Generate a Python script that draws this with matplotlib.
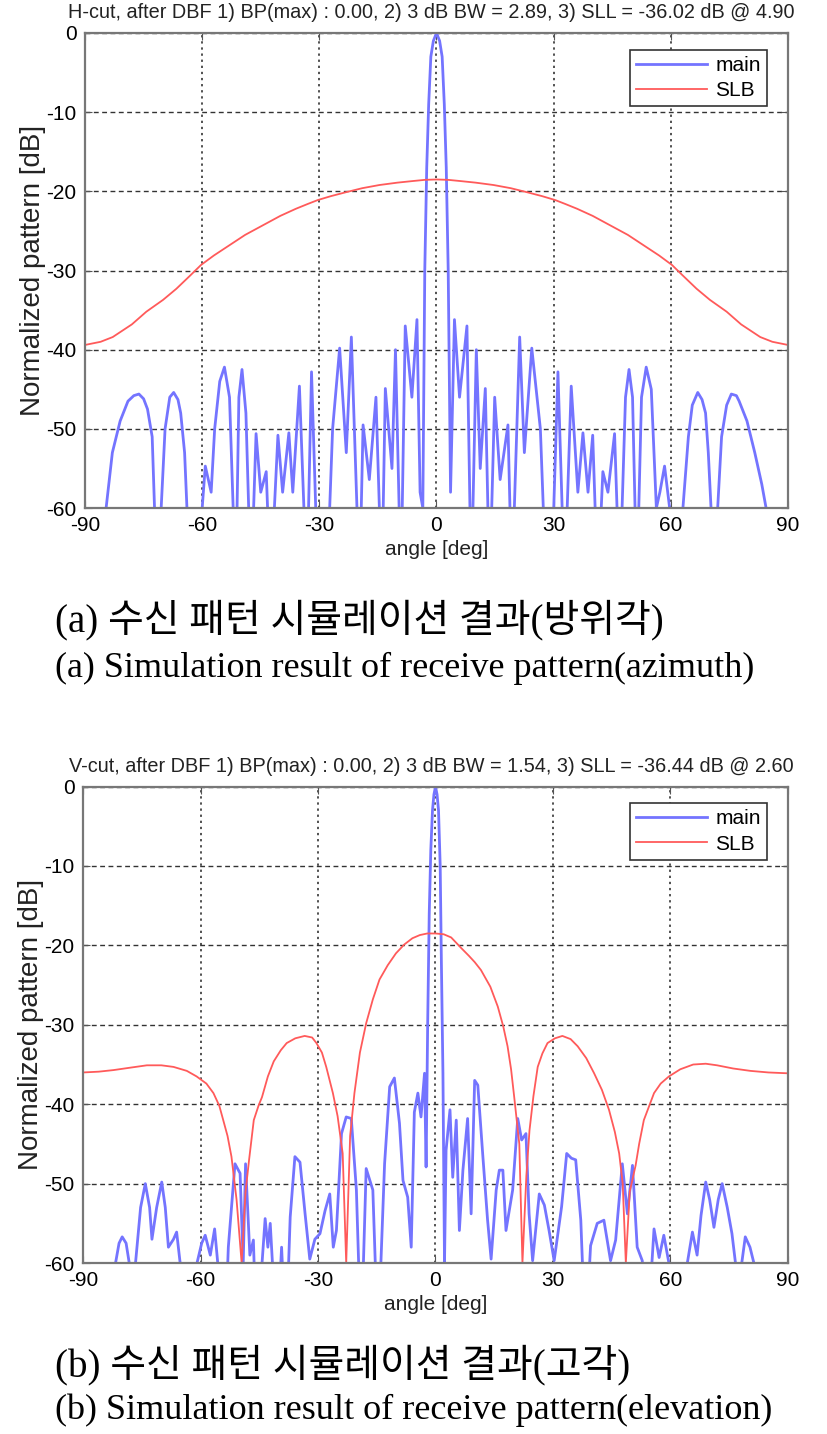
import matplotlib
matplotlib.use("Agg")
import matplotlib.pyplot as plt

plt.rcParams['font.family'] = ['Liberation Sans', 'DejaVu Sans']
plt.rcParams['axes.unicode_minus'] = False

# ---- (a) azimuth cut ----
h_slb_ang = [-90, -86, -82.9, -78, -74.3, -70, -66.6, -63, -60.3, -57, -53, -49, -44.5, -40, -36, -33,
             -30.4, -27, -23.1, -19, -14.6, -10, -6.1, -3, 0,
             3, 6.1, 10, 14.6, 19, 23.1, 27, 30.4, 33, 36, 40, 44.5, 49, 53, 57, 60.3, 63, 66.6, 70,
             74.3, 78, 82.9, 86, 90]
h_slb_db = [-39.4, -39.0, -38.4, -36.8, -35.2, -33.7, -32.3, -30.6, -29.3, -28.1, -26.8, -25.5, -24.3,
            -23.1, -22.2, -21.6, -21.1, -20.6, -20.1, -19.6, -19.2, -18.9, -18.7, -18.55, -18.5,
            -18.55, -18.7, -18.9, -19.2, -19.6, -20.1, -20.6, -21.1, -21.6, -22.2, -23.1, -24.3, -25.5,
            -26.8, -28.1, -29.3, -30.6, -32.3, -33.7, -35.2, -36.8, -38.4, -39.0, -39.4]

h_main_ang = [-85.5, -84.6, -83, -81, -79, -77.5, -76.2, -75, -74, -72.8, -72.2, -71.5, -70.5, -69.5,
              -68.3, -67.3, -66.2, -65.5, -64.5, -63.9, -63.5, -60.5, -60, -59.2, -57.7, -56.8, -55.5,
              -54.3, -53, -51.4, -50.6, -49.8, -48.8, -47.5, -46.2, -45, -43.6, -42.5, -40.6, -39.4,
              -37.8, -36.8, -35.1, -33.2, -32, -30.3, -27.5, -26.6, -24.8, -23.1, -21.8, -19.7, -18.8,
              -17.2, -15.5, -14, -13.1, -11.4, -10.5, -9.1, -8, -6.3, -5, -4.2, -3.5, -3.0, -2.5,
              -2.0, -1.45, -0.8, 0,
              0.8, 1.45, 2.0, 2.5, 3.0, 3.6, 4.6, 5.9, 7.8, 8.9, 10.2, 11.2, 12.5, 13.6, 14.9, 16.3,
              18.3, 19.3, 21.3, 22.5, 24.4, 26.6, 27.5, 29.4, 31.1, 32.8, 34.5, 36.2, 37.5, 38.8, 40,
              41.3, 42.6, 43.9, 45.6, 46.9, 48.4, 49.3, 50.2, 51.3, 52.5, 53.7, 55, 56.3, 57.2, 58.4,
              59.7, 60.2, 62.8, 63.1, 64.5, 65.5, 66.9, 68, 68.9, 69.6, 70.3, 71, 72, 73, 74.3, 75.5,
              76.8, 77.5, 79.5, 81.5, 83.3, 84.4, 85.2]
h_main_db = [-70, -60, -53, -49, -46.5, -45.8, -45.6, -46.2, -47.5, -51, -60, -70, -60, -50,
             -46, -45.4, -46.3, -48, -53, -60, -70, -70, -60, -54.7, -58, -50, -44,
             -42.2, -46, -70, -46, -42.5, -48, -70, -50.6, -58, -55.4, -70, -50.8, -58,
             -50.5, -58, -44.6, -70, -42.8, -70, -62, -50, -39.8, -53, -38.4, -70, -49.5,
             -56.4, -46, -70, -44.9, -55, -40, -70, -37, -46, -36.2, -58, -60, -30, -17,
             -9, -3, -1, 0,
             -1, -3, -9, -17, -30, -58, -36.2, -46, -37, -70, -40, -55, -44.9, -70, -46, -56.4,
             -49.5, -70, -38.4, -53, -39.8, -50, -62, -70, -42.8, -70, -44.6, -58, -50.5, -58, -50.8,
             -70, -55.4, -58, -50.6, -70, -46, -42.5, -46, -70, -46, -42.2, -45, -60, -58, -54.7,
             -60, -70, -70, -60, -51, -47, -45.4, -46.3, -48, -53, -60, -70, -60, -51, -47, -45.6,
             -45.8, -46.5, -49, -53, -57, -60, -70]

# ---- (b) elevation cut ----
v_slb_ang = [-90, -86, -82.2, -78, -73.7, -70, -66.9, -63.5, -61, -58.5, -56.7, -55.2, -54.2, -53.1,
             -52.1, -50.8, -49.5, -48.5, -47.6, -46.4, -45.2, -44.3, -42.8, -41.3, -39.5, -38, -35.8,
             -33.4, -31.5, -30.4, -29, -27.9, -26.2, -25, -23.7, -22.8, -21.8, -20.7, -19.3, -17.7,
             -16, -14.3, -12.2, -10.1, -8, -5.9, -4, -2.1, 0,
             2.1, 4, 6.5, 8.5, 10, 11.6, 14, 15.9, 17.3, 18.4, 19.3, 20.1, 21.4, 22.2, 23.2, 24,
             25, 26.1, 27.3, 28.6, 30.5, 32.4, 34.5, 36.3, 38.5, 40.5, 42.5, 44.3, 45.8, 46.9,
             47.8, 48.6, 49.6, 51.1, 52, 53.2, 55.8, 57.5, 59.6, 62.5, 65.8, 69, 71.9, 76, 80.4,
             85, 89.7]
v_slb_db = [-36.0, -35.9, -35.7, -35.4, -35.1, -35.1, -35.3, -35.8, -36.5, -37.4, -38.6, -40.2,
            -42, -44, -46.6, -52, -60, -51, -47, -42, -40.2, -39.1, -36.5, -34.6, -33.2, -32.3, -31.7,
            -31.4, -31.6, -32.3, -33.5, -35.3, -38.6, -41.5, -46.2, -60, -44, -38.6, -33.5, -29.8,
            -26.8, -24.3, -22.5, -21, -19.9, -19.1, -18.7, -18.5, -18.5,
            -18.6, -19, -20.3, -21.3, -22.1, -23.1, -25.2, -27.7, -30.2, -32.7, -35.6, -39.1, -45, -60, -49, -43.3,
            -39, -35.3, -33.6, -32.3, -31.7, -31.4, -31.8, -32.7, -34.2, -36.1, -38.2, -40.7, -43.5, -46.2,
            -50, -60, -51, -47.7, -45, -42, -38.6, -37.4, -36.5, -35.6, -35, -34.9, -35.1, -35.5, -35.8,
            -36, -36.1]

v_main_ang = [-82, -81.7, -80.8, -80, -79, -78.2, -77.5, -76.6, -75.3, -74.1, -73, -72.4, -71.2, -69.9,
              -69, -68.2, -66.9, -66.1, -65.2, -64.5, -61.3, -60.9, -59.7, -58.8, -57.5, -56.4, -55.6,
              -55, -53.8, -52.9, -51.2, -49.9, -49.1, -48.5, -47.4, -46.5, -45.7, -44.3, -43.5, -42.8,
              -42.2, -40.5, -39.3, -38.2, -37.1, -35.9, -34.6, -33.3, -32.1, -30.8, -29.5, -28.2, -27,
              -26.1, -25.3, -24, -22.8, -21.5, -20.2, -19, -17.7, -16, -14.7, -13, -11.7, -10.5, -9.2,
              -8.3, -7.1, -6.2, -5.4, -4.5, -3.7, -2.8, -2.4, -2.0, -1.6, -1.2, -0.77, -0.4, 0,
              0.4, 0.77, 1.2, 1.5, 1.9, 2.3, 2.7, 3.7, 4.4, 5.3, 6.1, 7, 8.2, 9.1, 10, 10.8, 12.1,
              13.3, 14.2, 15.5, 16.3, 17.2, 18, 19.7, 21, 22, 23.1, 23.9, 24.8, 26.5, 27.8, 29, 30.3,
              32.2, 33.5, 34.7, 35.8, 37.1, 38.3, 39.6, 41.3, 43, 44.7, 46, 47.7, 49, 50.3, 51.5, 52.8,
              54, 55.8, 57.1, 58.3, 59.6, 60.3, 63.8, 64.3, 65.6, 66.8, 67.8, 69, 70, 71.1, 72.2, 73.2,
              74.5, 75.7, 76.6, 77.3, 78.2, 79.1, 80.3, 81.3, 82]
v_main_db = [-70, -60, -57.5, -56.7, -57.5, -60, -70, -60, -53, -50, -53, -57, -53, -49.8,
             -53, -58, -57, -56.1, -60, -70, -70, -60, -57.5, -56.5, -59, -55.7, -60,
             -70, -70, -58, -47.5, -48.7, -60, -47.5, -59, -57.1, -70, -60, -54.4, -58,
             -55, -70, -58, -70, -54.2, -46.6, -47.3, -53.8, -59.5, -57, -56.3, -53.4, -51.3,
             -58, -55.9, -43.7, -41.6, -41.8, -50.8, -70, -48.1, -50.8, -70, -47.5, -37.8, -36.7, -42.4,
             -49.6, -51.7, -58, -41, -38.6, -41.6, -36.1, -47.9, -30, -16, -8, -3, -1, 0,
             -1, -3, -10, -22, -36.1, -60, -45.8, -40.7, -49.2, -42, -55.9, -48.3, -41.8, -53.8, -37, -37.6, -46.6,
             -54.6, -59.5, -50.8, -48.3, -48.3, -55.9, -50.8, -41.8, -44.5, -43.7, -53.8, -59.7, -51.3, -52.7, -55.9, -59.7,
             -52.9, -46.2, -46.8, -47, -54.6, -70, -57.8, -55, -54.6, -59.7, -57.1, -47.5, -53.8, -47.7, -58, -59.7,
             -70, -55.7, -59.3, -56.5, -60, -70, -70, -60, -56.1, -59, -54, -49.8, -52, -55.5, -52, -50,
             -53, -56.3, -60, -70, -60, -56.7, -58, -60, -70]

h_title = "H-cut, after DBF 1) BP(max) : 0.00, 2) 3 dB BW = 2.89, 3) SLL = -36.02 dB @ 4.90"
v_title = "V-cut, after DBF 1) BP(max) : 0.00, 2) 3 dB BW = 1.54, 3) SLL = -36.44 dB @ 2.60"
xticks = [-90, -60, -30, 0, 30, 60, 90]
yticks = [0, -10, -20, -30, -40, -50, -60]

main_color = '#7474ff'
slb_color = '#ff5a5a'

fig = plt.figure(figsize=(8.27, 14.34), dpi=100)
ax1 = fig.add_axes([0.1028, 0.6457, 0.85, 0.3313])
ax2 = fig.add_axes([0.1004, 0.1192, 0.8524, 0.3323])


def style(ax):
    ax.set_xlim(-90, 90)
    ax.set_ylim(-60, 0)
    ax.set_xticks(xticks)
    ax.set_yticks(yticks)
    ax.tick_params(direction='in', length=5, top=True, right=True, labelsize=15,
                   color='#555555', pad=6)
    for s in ax.spines.values():
        s.set_color('#777777')
        s.set_linewidth(1.6)
    ax.xaxis.grid(True, linestyle=(0, (1.5, 2.5)), color='#222222', linewidth=1.1)
    ax.yaxis.grid(True, linestyle=(0, (3.5, 2.5)), color='#333333', linewidth=1.0)
    ax.set_axisbelow(True)
    ax.set_xlabel('angle [deg]', fontsize=15, labelpad=3, color='#222222')
    ax.set_ylabel('Normalized pattern [dB]', fontsize=20, labelpad=0, color='#222222')
    leg = ax.legend(loc='upper right', bbox_to_anchor=(0.985, 0.987), fontsize=15,
                    handlelength=3.4, fancybox=False, framealpha=1, borderpad=0.3,
                    labelspacing=0.3, handletextpad=0.4)
    leg.get_frame().set_edgecolor('#333333')
    leg.get_frame().set_linewidth(1.2)


ax1.plot(h_main_ang, h_main_db, color=main_color, linewidth=2.0, label='main')
ax1.plot(h_slb_ang, h_slb_db, color=slb_color, linewidth=1.3, label='SLB')
style(ax1)

ax2.plot(v_main_ang, v_main_db, color=main_color, linewidth=2.0, label='main')
ax2.plot(v_slb_ang, v_slb_db, color=slb_color, linewidth=1.3, label='SLB')
style(ax2)

# titles sit in the narrow strip above each axes
fig.text(431 / 827, 1 - 12 / 1434, h_title, fontsize=14.3, color='#222222',
         ha='center', va='center')
fig.text(431 / 827, 1 - 767 / 1434, v_title, fontsize=14.3, color='#222222',
         ha='center', va='center')

cap_font = ['Liberation Serif', 'Noto Sans CJK KR']
fig.text(0.066, 1 - 620 / 1434, '(a) 수신 패턴 시뮬레이션 결과(방위각)', family=cap_font,
         fontsize=28, va='center', ha='left')
fig.text(0.066, 1 - 668 / 1434, '(a) Simulation result of receive pattern(azimuth)',
         family=cap_font, fontsize=26, va='center', ha='left')
fig.text(0.066, 1 - 1365 / 1434, '(b) 수신 패턴 시뮬레이션 결과(고각)', family=cap_font,
         fontsize=28, va='center', ha='left')
fig.text(0.066, 1 - 1410 / 1434, '(b) Simulation result of receive pattern(elevation)',
         family=cap_font, fontsize=26, va='center', ha='left')

fig.savefig('out.png', dpi=100)
